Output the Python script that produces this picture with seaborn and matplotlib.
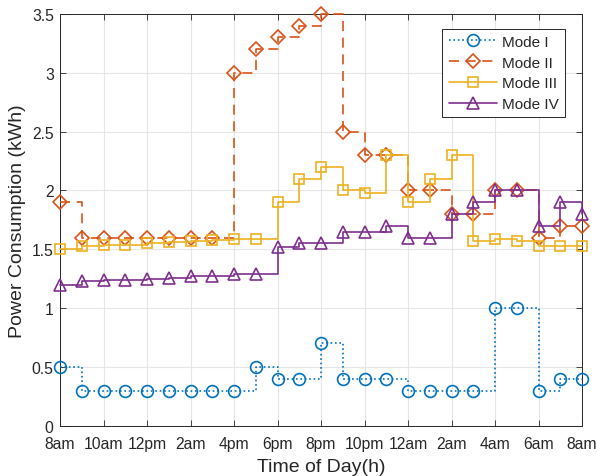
import numpy as np
import pandas as pd
import matplotlib
matplotlib.use('Agg')
import matplotlib.pyplot as plt
import seaborn as sns
from matplotlib.ticker import FormatStrFormatter

hours = list(range(25))
tick_labels = ['8am', '10am', '12pm', '2am', '4pm', '6pm', '8pm',
               '10pm', '12am', '2am', '4am', '6am', '8am']

mode1 = [0.5, 0.3, 0.3, 0.3, 0.3, 0.3, 0.3, 0.3, 0.3, 0.5, 0.4, 0.4, 0.7,
         0.4, 0.4, 0.4, 0.3, 0.3, 0.3, 0.3, 1.0, 1.0, 0.3, 0.4, 0.4]
mode2 = [1.9, 1.6, 1.6, 1.6, 1.6, 1.6, 1.6, 1.6, 3.0, 3.2, 3.3, 3.4, 3.5,
         2.5, 2.3, 2.3, 2.0, 2.0, 1.8, 1.8, 2.0, 2.0, 1.6, 1.7, 1.7]
mode3 = [1.5, 1.53, 1.535, 1.54, 1.55, 1.56, 1.57, 1.58, 1.59, 1.59, 1.9, 2.1, 2.2,
         2.0, 1.98, 2.3, 1.9, 2.1, 2.3, 1.57, 1.59, 1.57, 1.53, 1.53, 1.53]
mode4 = [1.2, 1.23, 1.235, 1.24, 1.25, 1.26, 1.27, 1.275, 1.29, 1.29, 1.52, 1.55, 1.55,
         1.65, 1.65, 1.7, 1.6, 1.6, 1.8, 1.9, 2.0, 2.0, 1.7, 1.9, 1.8]

names = ['Mode I', 'Mode II', 'Mode III', 'Mode IV']
series = [mode1, mode2, mode3, mode4]
colors = ['#0072BD', '#D95319', '#EDB120', '#7E2F8E']
styles = [':', (0, (6, 4)), '-', '-']
marks = ['o', 'D', 's', '^']
msizes = [8.5, 7.5, 6.5, 9]

sns.set_style('ticks')
plt.rcParams['font.family'] = ['Liberation Sans', 'DejaVu Sans']
plt.rcParams['font.size'] = 11

fig, ax = plt.subplots(figsize=(5.97, 4.77), dpi=100)
fig.subplots_adjust(left=0.1005, right=0.975, top=0.969, bottom=0.105)

for name, vals, c, ls, m, ms in zip(names, series, colors, styles, marks, msizes):
    df = pd.DataFrame({'hour': hours, 'value': vals})
    sns.lineplot(data=df, x='hour', y='value', ax=ax, color=c, linestyle=ls,
                 drawstyle='steps-post', marker=m, markersize=ms,
                 markerfacecolor='none', markeredgecolor=c, markeredgewidth=1.2,
                 linewidth=1.2, label=name, clip_on=False, zorder=3)

ax.set_xlim(0, 24)
ax.set_ylim(0, 3.5)
ax.set_xticks(range(0, 25, 2))
ax.set_xticklabels(tick_labels)
ax.set_yticks(np.arange(0, 3.51, 0.5))
ax.yaxis.set_major_formatter(FormatStrFormatter('%g'))
ax.grid(True, color='#e6e6e6', linewidth=0.8)
ax.set_axisbelow(True)
ax.tick_params(direction='in', top=True, right=True, length=4, width=0.6,
               colors='#262626', labelcolor='#262626', labelsize=11.3)
ax.tick_params(axis='x', pad=7)
ax.tick_params(axis='y', pad=4.5)
for s in ax.spines.values():
    s.set_visible(True)
    s.set_color('#262626')
    s.set_linewidth(0.7)
ax.set_xlabel('Time of Day(h)', fontsize=14, color='#262626', labelpad=5)
ax.set_ylabel('Power Consumption (kWh)', fontsize=14, color='#262626', labelpad=4)

leg = ax.legend(loc='upper right', bbox_to_anchor=(0.967, 0.964), borderaxespad=0,
                fontsize=11, fancybox=False, framealpha=1, edgecolor='#262626',
                handlelength=3.2, borderpad=0.4, labelspacing=0.45, handletextpad=0.3)
leg.get_frame().set_linewidth(0.7)

plt.savefig('out.png', dpi=100)
